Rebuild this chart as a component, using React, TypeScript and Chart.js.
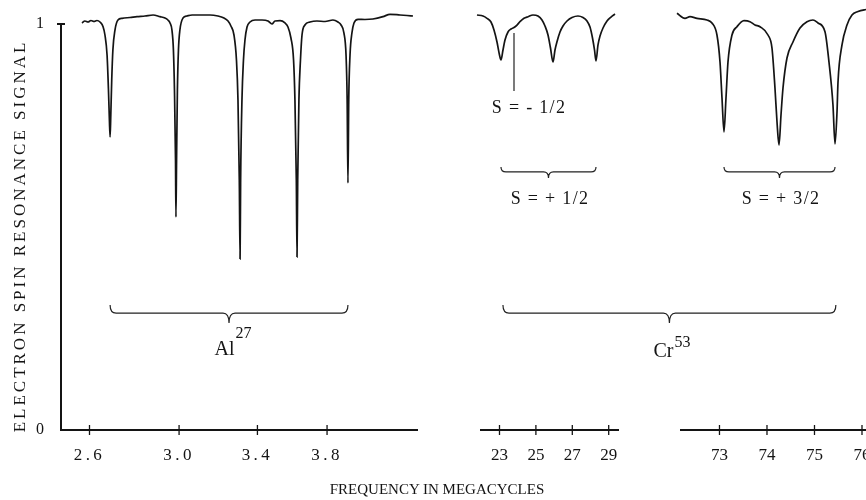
import React, { useEffect, useRef } from 'react';
import { Chart, registerables } from 'chart.js';

Chart.register(...registerables);

// ---------- data (frequency in megacycles, normalised ESR signal) ----------
const alFreq = [
  2.569, 2.581, 2.594, 2.606, 2.619, 2.631, 2.644, 2.657, 2.665, 2.674,
  2.680, 2.684, 2.687, 2.690, 2.694, 2.699, 2.708, 2.721, 2.739, 2.774,
  2.805, 2.841, 2.878, 2.910, 2.933, 2.947, 2.957, 2.966, 2.973, 2.978,
  2.983, 2.985, 2.988, 2.992, 2.997, 3.004, 3.019, 3.038, 3.063, 3.102,
  3.152, 3.192, 3.223, 3.244, 3.259, 3.275, 3.288, 3.296, 3.303, 3.307,
  3.310, 3.317, 3.325, 3.333, 3.344, 3.360, 3.387, 3.425, 3.458, 3.480,
  3.497, 3.525, 3.553, 3.570, 3.587, 3.602, 3.610, 3.618, 3.622, 3.626,
  3.633, 3.642, 3.651, 3.668, 3.698, 3.739, 3.788, 3.836, 3.867, 3.886,
  3.904, 3.917, 3.924, 3.929, 3.934, 3.942, 3.954, 3.967, 3.993, 4.037,
  4.089, 4.155, 4.202, 4.270, 4.318, 4.359,
];
const alSignal = [
  1.0025, 1.0074, 1.0049, 1.0086, 1.0062, 1.0086, 1.0049, 0.9933, 0.9729, 0.9236,
  0.8374, 0.7635, 0.7217, 0.7759, 0.8621, 0.9360, 0.9852, 1.0099, 1.0140, 1.0160,
  1.0180, 1.0197, 1.0222, 1.0180, 1.0148, 1.0099, 1.0025, 0.9852, 0.9360, 0.8374,
  0.6650, 0.5246, 0.6650, 0.8374, 0.9360, 0.9852, 1.0148, 1.0197, 1.0222, 1.0222,
  1.0222, 1.0197, 1.0148, 1.0074, 0.9951, 0.9729, 0.9113, 0.8128, 0.6158, 0.4212,
  0.6158, 0.8128, 0.9113, 0.9606, 0.9926, 1.0049, 1.0099, 1.0099, 1.0074, 1.0000,
  1.0074, 1.0081, 1.0025, 0.9926, 0.9655, 0.9113, 0.8128, 0.6158, 0.4261, 0.6158,
  0.8128, 0.9113, 0.9729, 0.9975, 1.0049, 1.0074, 1.0062, 1.0099, 1.0049, 0.9975,
  0.9778, 0.9236, 0.8128, 0.6084, 0.8128, 0.9236, 0.9778, 1.0025, 1.0116, 1.0111,
  1.0123, 1.0180, 1.0239, 1.0222, 1.0209, 1.0197,
];

const cr1Freq = [
  21.764, 22.093, 22.313, 22.533, 22.698, 22.863, 23.000, 23.082, 23.192, 23.302,
  23.467, 23.632, 23.797, 23.962, 24.126, 24.346, 24.566, 24.841, 25.115, 25.335,
  25.500, 25.665, 25.802, 25.940, 26.049, 26.159, 26.324, 26.489, 26.709, 26.984,
  27.313, 27.588, 27.808, 27.973, 28.110, 28.220, 28.302, 28.412, 28.522, 28.687,
  28.907, 29.126, 29.346,
];
const cr1Signal = [
  1.0222, 1.0197, 1.0140, 1.0049, 0.9852, 0.9557, 0.9236, 0.9113, 0.9360, 0.9606,
  0.9803, 0.9877, 0.9914, 0.9975, 1.0057, 1.0140, 1.0180, 1.0222, 1.0197, 1.0099,
  0.9951, 0.9729, 0.9409, 0.9064, 0.9360, 0.9564, 0.9803, 0.9951, 1.0074, 1.0160,
  1.0197, 1.0160, 1.0074, 0.9926, 0.9655, 0.9360, 0.9089, 0.9483, 0.9704, 0.9901,
  1.0074, 1.0172, 1.0246,
];

const cr2Freq = [
  72.105, 72.274, 72.379, 72.526, 72.737, 72.842, 72.947, 73.011, 73.053, 73.095,
  73.137, 73.179, 73.263, 73.368, 73.516, 73.642, 73.747, 73.853, 74.021, 74.105,
  74.168, 74.211, 74.253, 74.295, 74.337, 74.421, 74.547, 74.695, 74.842, 74.968,
  75.074, 75.221, 75.305, 75.389, 75.432, 75.474, 75.495, 75.579, 75.684, 75.789,
  75.916, 76.084, 76.274,
];
const cr2Signal = [
  1.0264, 1.0140, 1.0180, 1.0140, 1.0099, 1.0025, 0.9729, 0.9064, 0.8177, 0.7340,
  0.8177, 0.9064, 0.9729, 0.9933, 1.0081, 1.0057, 0.9975, 0.9933, 0.9729, 0.9409,
  0.8424, 0.7586, 0.7020, 0.7759, 0.8424, 0.9163, 0.9557, 0.9901, 1.0057, 1.0099,
  1.0025, 0.9810, 0.9064, 0.8005, 0.7044, 0.7833, 0.8571, 0.9483, 0.9975, 1.0222,
  1.0308, 1.0357, 1.0394,
];

// axis ticks
const yTicks = [0, 1];
const yTickLabels = ['0', '1'];
const alTicks = [2.6, 3.0, 3.4, 3.8];
const alTickLabels = ['2.6', '3.0', '3.4', '3.8'];
const cr1Ticks = [23, 25, 27, 29];
const cr1TickLabels = ['23', '25', '27', '29'];
const cr2Ticks = [73, 74, 75, 76];
const cr2TickLabels = ['73', '74', '75', '76'];

// axis ranges
const alRange = [2.4843, 4.3872];
const cr1Range = [21.984, 29.511];
const cr2Range = [72.19, 76.379];

// braces (from / to on a frequency axis, top of the brace on the signal axis)
const braceFromScale = ['xAl', 'xCr1', 'xCr2', 'xCr1'];
const braceFrom = [2.687, 23.082, 73.095, 23.19];
const braceToScale = ['xAl', 'xCr1', 'xCr2', 'xCr2'];
const braceTo = [3.929, 28.302, 75.432, 75.45];
const braceTop = [0.308, 0.648, 0.648, 0.308];

// annotation labels
const labelText = ['Al', 'Cr', 'S = + 1/2', 'S = + 3/2', 'S = - 1/2'];
const labelSup = ['27', '53', '', '', ''];
const labelScale = ['xAl', 'xCr2', 'xCr1', 'xCr2', 'xCr1'];
const labelX = [3.27, 72.0, 25.775, 74.295, 24.621];
const labelBaseline = [0.1847, 0.1798, 0.5567, 0.5567, 0.7808];

// pointer for S = -1/2
const pointerX = 23.797;
const pointerFrom = 0.9778;
const pointerTo = 0.835;

// ---------- layout / style ----------
const SERIF = '"Liberation Serif", "Times New Roman", serif';
const INK = '#141414';
const PANEL_SPANS: Record<string, [number, number]> = {
  xAl: [61, 417],
  xCr1: [481, 618],
  xCr2: [681, 880],
};
const BRACE_DEPTH = [18, 11, 11, 18];
const LABEL_SIZE = [20, 20, 18, 18, 18];
const LABEL_SPACING = ['0px', '0px', '1.3px', '1.3px', '1.3px'];
const SUP_RAISE = [17, 10, 0, 0, 0];

function drawBrace(ctx: CanvasRenderingContext2D, x0: number, x1: number, yT: number, depth: number) {
  const xm = (x0 + x1) / 2;
  const r = Math.min(6, depth * 0.45);
  const yLine = yT + depth * 0.45;
  const yPt = yT + depth;
  ctx.beginPath();
  ctx.moveTo(x0, yT);
  ctx.quadraticCurveTo(x0, yLine, x0 + r, yLine);
  ctx.lineTo(xm - r, yLine);
  ctx.quadraticCurveTo(xm, yLine, xm, yPt);
  ctx.quadraticCurveTo(xm, yLine, xm + r, yLine);
  ctx.lineTo(x1 - r, yLine);
  ctx.quadraticCurveTo(x1, yLine, x1, yT);
  ctx.stroke();
}

const panelPlugin = {
  id: 'panels',
  afterLayout(chart: any) {
    Object.keys(PANEL_SPANS).forEach((id) => {
      const s = chart.scales[id];
      if (!s) return;
      const [l, r] = PANEL_SPANS[id];
      s.left = l;
      s.right = r;
      s.width = r - l;
      s.bottom = chart.height;
      s.configure();
    });
    const al = chart.scales.xAl;
    if (al && !al._spaced) {
      const orig = al.drawLabels;
      al.drawLabels = function (area: any) {
        const c = this.ctx;
        c.save();
        c.letterSpacing = '3.4px';
        orig.call(this, area);
        c.restore();
      };
      al._spaced = true;
    }
  },
  afterDraw(chart: any) {
    const ctx = chart.ctx;
    const ys = chart.scales.y;
    ctx.save();
    ctx.strokeStyle = INK;
    ctx.fillStyle = INK;

    // crossing tick marks on the frequency axes
    ctx.lineWidth = 1.3;
    ['xAl', 'xCr1', 'xCr2'].forEach((id) => {
      const s = chart.scales[id];
      s.ticks.forEach((t: any) => {
        const px = s.getPixelForValue(t.value);
        ctx.beginPath();
        ctx.moveTo(px, s.top - 5);
        ctx.lineTo(px, s.top + 5);
        ctx.stroke();
      });
    });

    // tick at signal 1
    const y1 = ys.getPixelForValue(1);
    ctx.lineWidth = 2;
    ctx.beginPath();
    ctx.moveTo(ys.right - 4, y1);
    ctx.lineTo(ys.right + 4, y1);
    ctx.stroke();

    // braces
    ctx.lineWidth = 1.2;
    ctx.strokeStyle = '#222';
    for (let i = 0; i < braceFrom.length; i++) {
      const x0 = chart.scales[braceFromScale[i]].getPixelForValue(braceFrom[i]);
      const x1 = chart.scales[braceToScale[i]].getPixelForValue(braceTo[i]);
      const yT = ys.getPixelForValue(braceTop[i]);
      drawBrace(ctx, x0, x1, yT, BRACE_DEPTH[i]);
    }

    // pointer line for S = -1/2
    const pX = chart.scales.xCr1.getPixelForValue(pointerX);
    ctx.lineWidth = 1.2;
    ctx.beginPath();
    ctx.moveTo(pX, ys.getPixelForValue(pointerFrom));
    ctx.lineTo(pX, ys.getPixelForValue(pointerTo));
    ctx.stroke();

    // labels
    ctx.textAlign = 'left';
    ctx.textBaseline = 'alphabetic';
    for (let i = 0; i < labelText.length; i++) {
      const cx = chart.scales[labelScale[i]].getPixelForValue(labelX[i]);
      const by = ys.getPixelForValue(labelBaseline[i]);
      ctx.letterSpacing = LABEL_SPACING[i];
      ctx.font = `${LABEL_SIZE[i]}px ${SERIF}`;
      const w1 = ctx.measureText(labelText[i]).width;
      let w2 = 0;
      if (labelSup[i]) {
        ctx.font = `16px ${SERIF}`;
        w2 = ctx.measureText(labelSup[i]).width + 1;
      }
      const start = cx - (w1 + w2) / 2;
      ctx.font = `${LABEL_SIZE[i]}px ${SERIF}`;
      ctx.fillText(labelText[i], start, by);
      if (labelSup[i]) {
        ctx.font = `16px ${SERIF}`;
        ctx.fillText(labelSup[i], start + w1 + 1, by - SUP_RAISE[i]);
      }
    }
    ctx.restore();
  },
};

function xScale(type: string, range: number[], ticks: number[], labels: string[]) {
  return {
    type,
    axis: 'x',
    position: 'bottom',
    bounds: 'data',
    min: range[0],
    max: range[1],
    grid: { display: false },
    border: { display: true, width: 2, color: INK },
    afterBuildTicks: (s: any) => {
      s.ticks = ticks.map((v) => ({ value: v }));
    },
    afterFit: (s: any) => {
      s.height = 0;
      s.paddingLeft = 0;
      s.paddingRight = 0;
    },
    ticks: {
      autoSkip: false,
      maxRotation: 0,
      minRotation: 0,
      padding: 7,
      color: INK,
      font: { family: SERIF, size: 17 },
      callback: (_v: any, i: number) => labels[i],
    },
  };
}

function makeDataset(xs: number[], ys: number[], axisId: string) {
  return {
    data: xs.map((x, i) => ({ x, y: ys[i] })),
    xAxisID: axisId,
    yAxisID: 'y',
    borderColor: INK,
    borderWidth: 1.7,
    pointRadius: 0,
    fill: false,
    cubicInterpolationMode: 'monotone',
    clip: false,
  };
}

export default function App() {
  const ref = useRef<HTMLCanvasElement>(null);

  useEffect(() => {
    if (!ref.current) return;
    const chart = new Chart(ref.current, {
      type: 'line',
      data: {
        datasets: [
          makeDataset(alFreq, alSignal, 'xAl'),
          makeDataset(cr1Freq, cr1Signal, 'xCr1'),
          makeDataset(cr2Freq, cr2Signal, 'xCr2'),
        ] as any,
      },
      options: {
        responsive: false,
        animation: false,
        events: [],
        layout: { padding: { top: 24, bottom: 70, left: 0, right: 0 } },
        plugins: { legend: { display: false }, tooltip: { enabled: false }, title: { display: false } },
        scales: {
          y: {
            type: 'linear',
            position: 'left',
            min: 0,
            max: 1,
            grid: { display: false },
            border: { display: true, width: 2, color: INK },
            afterBuildTicks: (s: any) => {
              s.ticks = yTicks.map((v) => ({ value: v }));
            },
            afterFit: (s: any) => {
              s.width = 61;
              s.paddingTop = 0;
              s.paddingBottom = 0;
            },
            ticks: {
              padding: 9,
              color: INK,
              font: { family: SERIF, size: 16 },
              callback: (_v: any, i: number) => yTickLabels[i],
            },
          },
          xAl: xScale('logarithmic', alRange, alTicks, alTickLabels),
          xCr1: xScale('linear', cr1Range, cr1Ticks, cr1TickLabels),
          xCr2: xScale('linear', cr2Range, cr2Ticks, cr2TickLabels),
        } as any,
      },
      plugins: [panelPlugin as any],
    });
    return () => chart.destroy();
  }, []);

  return (
    <div
      style={{
        position: 'absolute',
        left: 0,
        top: 0,
        width: 866,
        height: 500,
        overflow: 'hidden',
        background: '#fff',
      }}
    >
      <canvas
        ref={ref}
        width={866}
        height={500}
        style={{ position: 'absolute', left: 0, top: 0, width: 866, height: 500 }}
      />
      <div
        style={{
          position: 'absolute',
          left: -190,
          top: 226,
          width: 420,
          height: 20,
          lineHeight: '20px',
          textAlign: 'center',
          transform: 'rotate(-90deg)',
          fontFamily: SERIF,
          fontSize: 17,
          letterSpacing: '3px',
          whiteSpace: 'nowrap',
          color: INK,
        }}
      >
        ELECTRON SPIN RESONANCE SIGNAL
      </div>
      <div
        style={{
          position: 'absolute',
          left: 0,
          top: 480,
          width: 874,
          textAlign: 'center',
          fontFamily: SERIF,
          fontSize: 15,
          lineHeight: '18px',
          whiteSpace: 'nowrap',
          color: INK,
        }}
      >
        FREQUENCY IN MEGACYCLES
      </div>
    </div>
  );
}
